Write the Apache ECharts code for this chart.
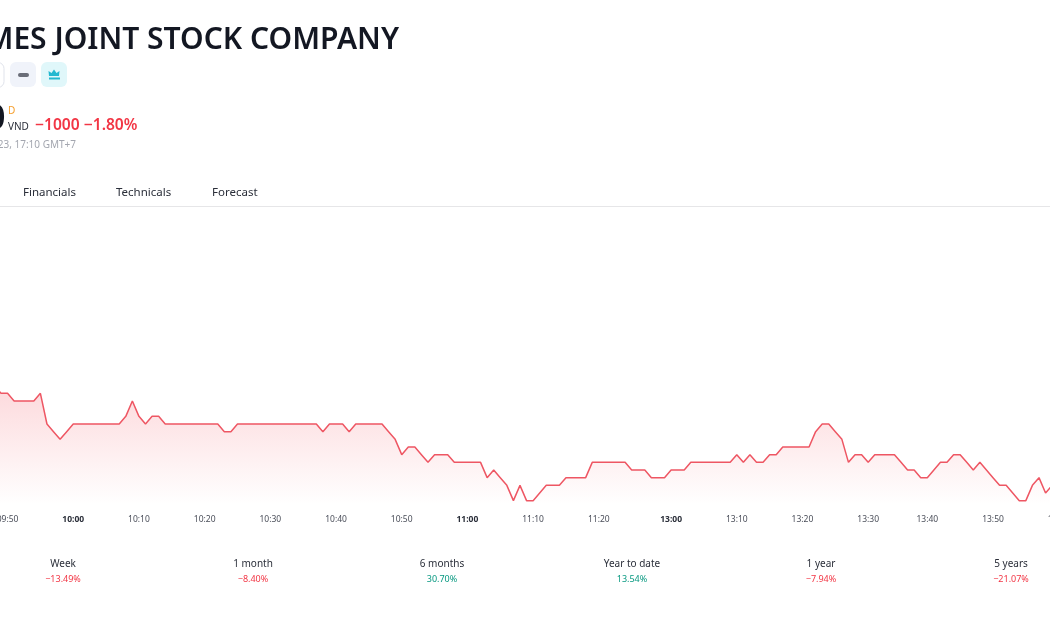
<!DOCTYPE html>
<html>
<head>
<meta charset="utf-8">
<style>html,body{margin:0;padding:0;background:#fff;overflow:hidden}#chart{width:1050px;height:630px}</style>
<script src="https://cdn.jsdelivr.net/npm/echarts@6/dist/echarts.min.js"></script>
</head>
<body>
<div id="chart"></div>
<script>
// Intraday session, one price per minute (the feed has no 13:39 print).
const times = [
'09:48','09:49','09:50','09:51','09:52','09:53','09:54','09:55','09:56','09:57','09:58','09:59',
'10:00','10:01','10:02','10:03','10:04','10:05','10:06','10:07','10:08','10:09','10:10','10:11','10:12','10:13','10:14','10:15','10:16','10:17','10:18','10:19',
'10:20','10:21','10:22','10:23','10:24','10:25','10:26','10:27','10:28','10:29','10:30','10:31','10:32','10:33','10:34','10:35','10:36','10:37','10:38','10:39',
'10:40','10:41','10:42','10:43','10:44','10:45','10:46','10:47','10:48','10:49','10:50','10:51','10:52','10:53','10:54','10:55','10:56','10:57','10:58','10:59',
'11:00','11:01','11:02','11:03','11:04','11:05','11:06','11:07','11:08','11:09','11:10','11:11','11:12','11:13','11:14','11:15','11:16','11:17','11:18','11:19',
'11:20','11:21','11:22','11:23','11:24','11:25','11:26','11:27','11:28','11:29','11:30',
'13:00','13:01','13:02','13:03','13:04','13:05','13:06','13:07','13:08','13:09','13:10','13:11','13:12','13:13','13:14','13:15','13:16','13:17','13:18','13:19',
'13:20','13:21','13:22','13:23','13:24','13:25','13:26','13:27','13:28','13:29','13:30','13:31','13:32','13:33','13:34','13:35','13:36','13:37','13:38',
'13:40','13:41','13:42','13:43','13:44','13:45','13:46','13:47','13:48','13:49','13:50','13:51','13:52','13:53','13:54','13:55','13:56','13:57','13:58','13:59','14:00'
];
const prices = [
56000,55900,55900,55800,55800,55800,55800,55900,55500,55400,55300,55400,
55500,55500,55500,55500,55500,55500,55500,55500,55600,55800,55600,55500,55600,55600,55500,55500,55500,55500,55500,55500,
55500,55500,55500,55400,55400,55500,55500,55500,55500,55500,55500,55500,55500,55500,55500,55500,55500,55500,55400,55500,
55500,55500,55400,55500,55500,55500,55500,55500,55400,55300,55100,55200,55200,55100,55000,55100,55100,55100,55000,55000,
55000,55000,55000,54800,54900,54800,54700,54500,54700,54500,54500,54600,54700,54700,54700,54800,54800,54800,54800,55000,
55000,55000,55000,55000,55000,54900,54900,54900,54800,54800,54800,
54900,54900,54900,55000,55000,55000,55000,55000,55000,55000,55100,55000,55100,55000,55000,55100,55100,55200,55200,55200,
55200,55200,55400,55500,55500,55400,55300,55000,55100,55100,55000,55100,55100,55100,55100,55000,54900,54900,54800,
54800,54900,55000,55000,55100,55100,55000,54900,55000,54900,54800,54700,54700,54600,54500,54500,54700,54800,54600,54700,54700
];
const tickLabels = ['09:50','10:00','10:10','10:20','10:30','10:40','10:50','11:00','11:10','11:20','13:00','13:10','13:20','13:30','13:40','13:50','14:00'];
const boldTicks = ['10:00','11:00','13:00'];

const titleText = 'MES JOINT STOCK COMPANY';
const priceText = '54500';
const changeText = '\u22121000 \u22121.80%';
const dateText = '23, 17:10 GMT+7';
const tabs = ['Financials', 'Technicals', 'Forecast'];
const periods = ['Week', '1 month', '6 months', 'Year to date', '1 year', '5 years'];
const periodChanges = ['\u221213.49%', '\u22128.40%', '30.70%', '13.54%', '\u22127.94%', '\u221221.07%'];

const UI_FONT = '"Noto Sans", sans-serif';
const RED = '#f23645', GREEN = '#089981';

const label = (x, y, text, fontSize, fill, align, fontWeight) => ({
  type: 'text', x, y,
  style: { text, fontSize, fill, fontFamily: UI_FONT, fontWeight: fontWeight || 'normal', align: align || 'left', verticalAlign: 'middle' }
});
const box = (x, y, w, h, r, fill, stroke) => ({
  type: 'rect', shape: { x, y, width: w, height: h, r },
  style: { fill, stroke: stroke || null, lineWidth: 1 }
});

const tabX = [23, 116, 212];
const periodX = [63, 253, 442, 632, 821, 1011];

const graphic = [
  label(399, 40.5, titleText, 30, '#131722', 'right', 600),
  box(-22, 62.5, 26, 25, 6, '#fff', '#e0e3eb'),
  box(10, 62, 26, 25, 6, '#f0f3fa'),
  box(18, 73, 11, 4, 2, '#6a6d78'),
  box(41, 62, 26, 25, 6, '#e0f7fa'),
  { type: 'polygon', shape: { points: [[49, 76], [48.5, 71], [51.5, 73], [54, 69.5], [56.5, 73], [59.5, 71], [59, 76]] }, style: { fill: '#22b8d0' } },
  box(49, 77.5, 11, 2, 0, '#22b8d0'),
  label(5.5, 119, priceText, 35, '#131722', 'right', 600),
  label(8, 111, 'D', 10, '#f59e2c'),
  label(8, 127, 'VND', 10, '#2a2e39'),
  label(35, 125.5, changeText, 15.6, RED, 'left', 600),
  label(76, 145, dateText, 10, '#a3a6af', 'right'),
  { type: 'rect', shape: { x: 0, y: 206, width: 1050, height: 1 }, style: { fill: '#e6e6e8' } }
];
tabs.forEach((t, i) => graphic.push(label(tabX[i], 193, t, 11.5, '#2a2e39')));
periods.forEach((p, i) => {
  graphic.push(label(periodX[i], 564, p, 10, '#2a2e39', 'center'));
  graphic.push(label(periodX[i], 579, periodChanges[i], 9, periodChanges[i].startsWith('\u2212') ? RED : GREEN, 'center'));
});

const chart = echarts.init(document.getElementById('chart'), null, { renderer: 'canvas' });
chart.setOption({
  animation: false,
  backgroundColor: '#fff',
  grid: { left: -5.6, top: 378, width: 1064.3, height: 126.5, outerBoundsMode: 'none' },
  xAxis: {
    type: 'category',
    data: times,
    boundaryGap: false,
    axisLine: { show: false },
    axisTick: { show: false },
    splitLine: { show: false },
    axisLabel: {
      interval: (i, v) => tickLabels.includes(v),
      margin: 11,
      hideOverlap: false,
      fontFamily: UI_FONT,
      fontSize: 8.5,
      color: '#4a4e59',
      formatter: v => boldTicks.includes(v) ? '{b|' + v + '}' : v,
      rich: { b: { fontFamily: UI_FONT, fontSize: 8.5, fontWeight: 700, color: '#2a2e39' } }
    }
  },
  yAxis: { type: 'value', min: 54450, max: 56100, show: false },
  series: [{
    type: 'line',
    data: prices,
    symbol: 'none',
    clip: false,
    lineStyle: { color: '#ee5663', width: 1.5 },
    areaStyle: {
      origin: 'start',
      color: new echarts.graphic.LinearGradient(0, 0, 0, 1, [
        { offset: 0, color: 'rgba(242,54,69,0.27)' },
        { offset: 1, color: 'rgba(242,54,69,0)' }
      ])
    }
  }],
  graphic: { elements: graphic }
});
</script>
</body>
</html>
